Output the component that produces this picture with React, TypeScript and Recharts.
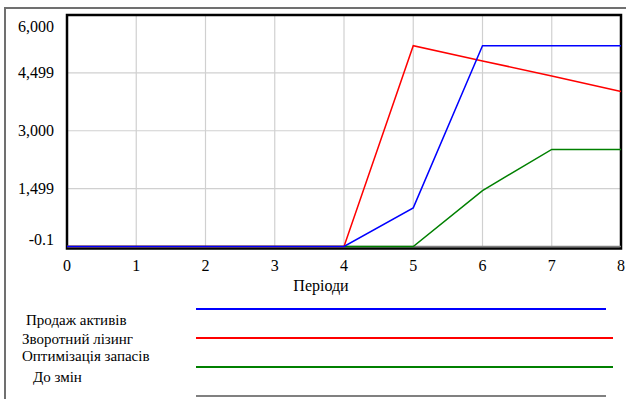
import { LineChart, Line, XAxis, YAxis, CartesianGrid, ReferenceArea } from "recharts";

const periods = [0, 1, 2, 3, 4, 5, 6, 7, 8];
const assetSale = [0, 0, 0, 0, 0, 1000, 5205, 5205, 5205];
const leaseback = [0, 0, 0, 0, 0, 5205, 4810, 4420, 4015];
const stockOpt = [0, 0, 0, 0, 0, 0, 1450, 2515, 2515];
const baseline = [0, 0, 0, 0, 0, 0, 0, 0, 0];

const yTicks = [-0.1, 1499, 3000, 4499, 6000];
const yLabels = ["-0.1", "1,499", "3,000", "4,499", "6,000"];

const SERIES = [
  { key: "base",  name: "До змін",             color: "#808080" },
  { key: "stock", name: "Оптимізація запасів", color: "#008000" },
  { key: "lease", name: "Зворотний лізинг",    color: "#ff0000" },
  { key: "sale",  name: "Продаж активів",      color: "#0000ff" },
];

const data = periods.map((p, i) => ({
  period: p,
  sale: assetSale[i],
  lease: leaseback[i],
  stock: stockOpt[i],
  base: baseline[i],
}));

const FONT = "Liberation Serif, DejaVu Serif, Tinos, Times New Roman, serif";

function YTick({ x, y, payload }: any) {
  const v = payload.value;
  // Vensim nudges the end labels inside the frame
  let dy = 5.5;
  if (v === 6000) dy = 17;
  if (v === -0.1) dy = -1.5;
  const i = yTicks.indexOf(v);
  return (
    <text x={x - 13} y={y + dy} textAnchor="end" fontSize={16} style={{ fontFamily: FONT }} fill="#000">
      {yLabels[i]}
    </text>
  );
}

function XTick({ x, y, payload }: any) {
  return (
    <text x={x} y={y + 24.5} textAnchor="middle" fontSize={16} style={{ fontFamily: FONT }} fill="#000">
      {payload.value}
    </text>
  );
}

// legend rows sit a bit off from their lines, like in the original export
const legendRows = [
  { key: "sale",  textX: 26, textY: 325, lineY: 309, x2: 606 },
  { key: "lease", textX: 22, textY: 344, lineY: 338, x2: 613 },
  { key: "stock", textX: 22, textY: 361, lineY: 367, x2: 613 },
  { key: "base",  textX: 33, textY: 382, lineY: 396, x2: 606 },
];

export default function App() {
  return (
    <div style={{ position: "relative", width: 626, height: 399, background: "#fff", overflow: "hidden", fontFamily: FONT }}>
      <style>{`body{margin:0}`}</style>
      <div style={{
        position: "absolute", left: 4, top: 7, width: 622, height: 392,
        borderTop: "2px solid #707070", borderLeft: "2px solid #707070", boxSizing: "border-box",
      }} />
      <div style={{ position: "absolute", left: 0, top: 0 }}>
        <LineChart width={626} height={399} data={data} margin={{ top: 15, right: 5, left: 7, bottom: 122.5 }}>
          <CartesianGrid stroke="#d0d0d0" strokeWidth={1.2} />
          <XAxis
            dataKey="period" type="number" domain={[0, 8]} ticks={periods}
            height={30} tickSize={0} tickMargin={0} axisLine={false} tickLine={false}
            tick={<XTick />}
          />
          <YAxis
            type="number" domain={[-0.1, 6000]} ticks={yTicks} width={60}
            tickSize={0} tickMargin={0} axisLine={false} tickLine={false}
            tick={<YTick />} interval={0}
          />
          {/* frame sits just outside the data floor */}
          <ReferenceArea x1={0} x2={8} y1={-52} y2={6000} fill="none" stroke="#000" strokeWidth={2.5} ifOverflow="visible" />
          {SERIES.map(s => (
            <Line key={s.key} dataKey={s.key} name={s.name} type="linear" stroke={s.color}
              strokeWidth={1.5} dot={false} isAnimationActive={false} />
          ))}
        </LineChart>
      </div>
      <svg width={626} height={399} style={{ position: "absolute", left: 0, top: 0, pointerEvents: "none" }}>
        <text x={321} y={291} textAnchor="middle" fontSize={16} style={{ fontFamily: FONT }} fill="#000">Періоди</text>
        {legendRows.map(r => {
          const s = SERIES.find(q => q.key === r.key)!;
          return (
            <g key={r.key}>
              <text x={r.textX} y={r.textY} fontSize={15} style={{ fontFamily: FONT }} fill="#000">{s.name}</text>
              <line x1={196} x2={r.x2} y1={r.lineY} y2={r.lineY} stroke={s.color} strokeWidth={2} />
            </g>
          );
        })}
      </svg>
    </div>
  );
}
